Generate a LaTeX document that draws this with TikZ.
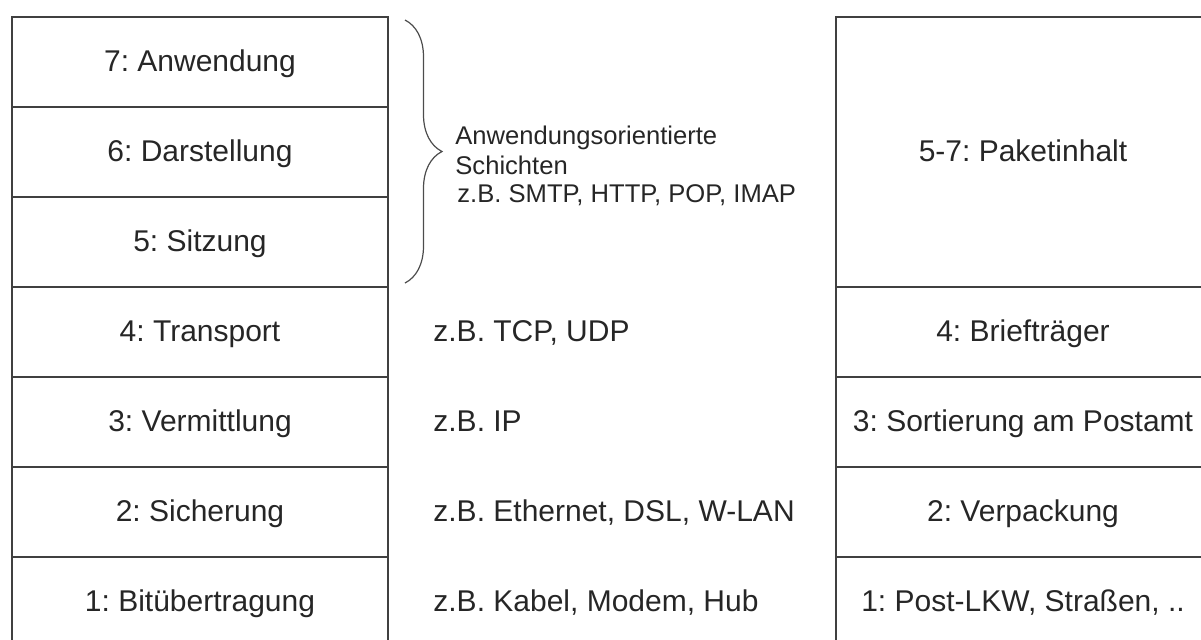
\documentclass[tikz,border=0pt]{standalone}
\usepackage{fontspec}
\setmainfont{Liberation Sans}
\usetikzlibrary{decorations.pathreplacing}
\frenchspacing

\begin{document}
\begin{tikzpicture}[x=0.5pt, y=-0.5pt,
    layer/.style={rectangle, draw=black!75, line width=1pt, minimum width=188pt, minimum height=45pt, inner sep=0pt, text height=10.8pt, text depth=1.5pt, font=\fontsize{15}{17}\selectfont, text=black!85},
    post/.style={layer, minimum width=187pt},
    proto/.style={anchor=west, inner sep=0pt, text height=10.8pt, text depth=1.5pt, font=\fontsize{15}{17}\selectfont, text=black!85},
    note/.style={inner sep=0pt, align=left, font=\fontsize{12.8}{15}\selectfont, text=black!85},
    bracket/.style={decorate, decoration={brace, amplitude=18.5pt}, draw=black!70, line width=0.6pt}
]
\clip (0,0) rectangle (1201,639);

% OSI layers
\node[layer] (l7) at (200,62) {7: Anwendung};
\node[layer] (l6) at (200,152) {6: Darstellung};
\node[layer] (l5) at (200,242) {5: Sitzung};
\node[layer] (l4) at (200,332) {4: Transport};
\node[layer] (l3) at (200,422) {3: Vermittlung};
\node[layer] (l2) at (200,512) {2: Sicherung};
\node[layer] (l1) at (200,602) {1: Bitübertragung};

% Examples
\coordinate (bt) at (405,20);
\coordinate (bb) at (405,283);
\draw[bracket] (bt) -- (bb);
\node[note, anchor=north west] (apps) at (455,126) {Anwendungsorientierte\\Schichten};
\node[note, anchor=base west] (appex) at (457,202) {z.B. SMTP, HTTP, POP, IMAP};
\node[proto] (p4) at (433,332) {z.B. TCP, UDP};
\node[proto] (p3) at (433,422) {z.B. IP};
\node[proto] (p2) at (433,512) {z.B. Ethernet, DSL, W-LAN};
\node[proto] (p1) at (433,602) {z.B. Kabel, Modem, Hub};

% Post analogy
\node[post, minimum height=135pt] (r57) at (1023,152) {5-7: Paketinhalt};
\node[post] (r4) at (1023,332) {4: Briefträger};
\node[post] (r3) at (1023,422) {3: Sortierung am Postamt};
\node[post] (r2) at (1023,512) {2: Verpackung};
\node[post] (r1) at (1023,602) {1: Post-LKW, Straßen, ..};

\end{tikzpicture}
\end{document}
